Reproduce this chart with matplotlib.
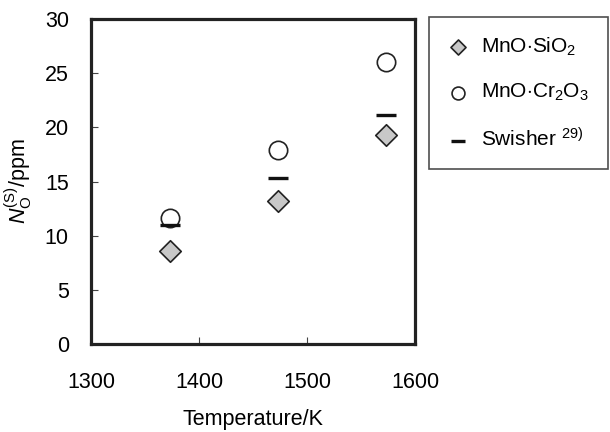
import matplotlib
matplotlib.use("Agg")
import matplotlib.pyplot as plt

plt.rcParams['font.family'] = ['Liberation Sans', 'DejaVu Sans']
plt.rcParams['mathtext.fontset'] = 'custom'
plt.rcParams['mathtext.rm'] = 'Liberation Sans'
plt.rcParams['mathtext.it'] = 'Liberation Sans:italic'

temps = [1373, 1473, 1573]
mno_sio2 = [8.6, 13.2, 19.3]
mno_cr2o3 = [11.6, 17.9, 26.0]
swisher = [11.0, 15.3, 21.1]

fig = plt.figure(figsize=(6.1, 4.32), dpi=100)
ax = fig.add_axes([91 / 610, 1 - 344 / 432, 324 / 610, 325 / 432])

ax.scatter(temps, mno_sio2, marker='D', s=120, facecolor='#c8c8c8',
           edgecolor='#222222', linewidth=1.2, label=r'MnO$\cdot$SiO$_2$', zorder=3)
ax.scatter(temps, mno_cr2o3, marker='o', s=175, facecolor='white',
           edgecolor='#222222', linewidth=1.2, label=r'MnO$\cdot$Cr$_2$O$_3$', zorder=3)
ax.scatter(temps, swisher, marker='_', s=190, color='#111111',
           linewidth=2.4, label=r'Swisher $^{29)}$', zorder=4)

ax.set_xlim(1300, 1600)
ax.set_ylim(0, 30)
ax.set_xticks([1300, 1400, 1500, 1600])
ax.set_yticks([0, 5, 10, 15, 20, 25, 30])
ax.tick_params(direction='in', labelsize=15.5, length=5, width=0.8, color='#444444')
ax.tick_params(axis='x', pad=20)
ax.tick_params(axis='y', pad=16)
for sp in ax.spines.values():
    sp.set_linewidth(2.3)
    sp.set_color('#222222')

ax.set_xlabel('Temperature/K', fontsize=15.5, labelpad=12)
ax.set_ylabel(r'$N_{\mathrm{O}}^{\mathrm{(S)}}$/ppm', fontsize=15.5, labelpad=8)

leg = fig.legend(loc='upper left',
                 bbox_to_anchor=(429 / 610, 1 - 163 / 432, 179 / 610, 146 / 432),
                 mode='expand', fontsize=15, frameon=True, fancybox=False,
                 handletextpad=0.6, labelspacing=1.15, borderpad=0.9, handlelength=1.0,
                 markerscale=0.7, borderaxespad=0)
leg.get_frame().set_edgecolor('#222222')
leg.get_frame().set_linewidth(1.2)

fig.savefig('out.png', dpi=100)
